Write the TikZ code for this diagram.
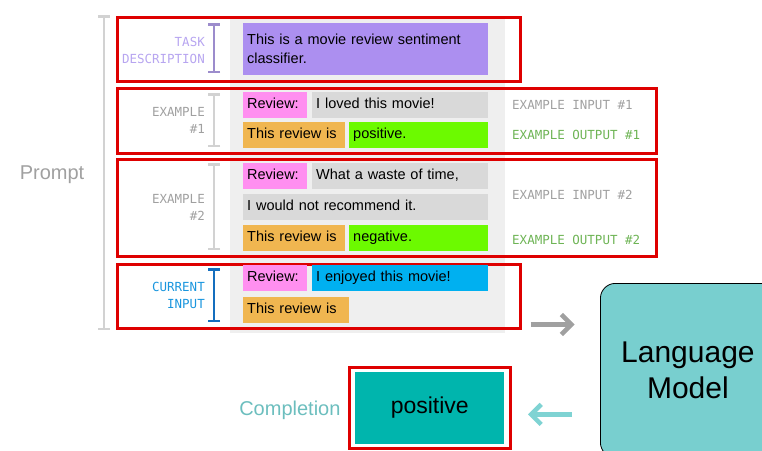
\documentclass[tikz,border=0pt]{standalone}
\usepackage{fontspec}
\setmainfont{Liberation Sans}
\newfontfamily\tagfont{DejaVu Sans Mono}
\usetikzlibrary{arrows.meta}
\definecolor{redline}{RGB}{222,0,0}
\definecolor{panelgray}{RGB}{239,239,239}
\definecolor{segpurple}{RGB}{172,143,240}
\definecolor{tagpurple}{RGB}{183,165,240}
\definecolor{segpink}{RGB}{255,143,240}
\definecolor{seggray}{RGB}{217,217,217}
\definecolor{segorange}{RGB}{240,182,80}
\definecolor{seggreen}{RGB}{108,250,0}
\definecolor{segblue}{RGB}{0,176,240}
\definecolor{tagblue}{RGB}{26,150,222}
\definecolor{beamblue}{RGB}{20,110,190}
\definecolor{taggray}{RGB}{160,160,160}
\definecolor{beamgray}{RGB}{210,210,210}
\definecolor{taggreen}{RGB}{110,180,85}
\definecolor{lmteal}{RGB}{120,207,207}
\definecolor{compteal}{RGB}{0,181,173}
\definecolor{complabel}{RGB}{108,190,190}
\definecolor{arrowteal}{RGB}{127,211,211}
\begin{document}
\begin{tikzpicture}[x=1pt, y=-1pt,
        frame/.style = {draw=redline, line width=2.5pt, anchor=north west, inner sep=0pt},
        seg/.style = {anchor=north west, text width=#1, minimum height=26pt, inner xsep=4pt, inner ysep=0pt,
            align=left, font=\fontsize{14.5}{17}\selectfont, text height=10pt, text depth=3pt},
        tag/.style = {anchor=east, align=right, inner sep=0pt, font=\tagfont\fontsize{12.5}{17}\selectfont},
        side/.style = {anchor=west, inner sep=0pt, font=\tagfont\fontsize{12.5}{14}\selectfont},
        ibeam/.style = {{Bar[width=12pt]}-{Bar[width=12pt]}, line width=2.5pt},
        bigarrow/.style = {-{Straight Barb[length=10pt,width=20pt]}, line width=4.5pt}
    ]
        \useasboundingbox (0,0) rectangle (762,450);
        \clip (0,0) rectangle (762,450);
        \fill[panelgray] (230,16) rectangle (505,333);
        \draw[ibeam, beamgray] (104,15) -- (104,330);
        \node[text=taggray, font=\fontsize{20}{24}\selectfont] (prompt) at (52,175) {Prompt};

        \node[frame, minimum width=403pt, minimum height=64pt] (taskframe) at (116,16) {};
        \node[frame, minimum width=539pt, minimum height=65pt] (exaframe) at (116,87) {};
        \node[frame, minimum width=539pt, minimum height=97pt] (exbframe) at (116,158) {};
        \node[frame, minimum width=403pt, minimum height=64pt] (curframe) at (116,263) {};

        \draw[ibeam, tagpurple!85!black] (214,23) -- (214,73);
        \draw[ibeam, beamgray] (214,93) -- (214,147);
        \draw[ibeam, beamgray] (214,163) -- (214,250);
        \draw[ibeam, beamblue] (214,268) -- (214,322);
        \node[tag, text=tagpurple] (tasktag) at (205,50) {TASK\\DESCRIPTION};
        \node[tag, text=taggray] (exatag) at (205,120) {EXAMPLE\\\#1};
        \node[tag, text=taggray] (exbtag) at (205,207) {EXAMPLE\\\#2};
        \node[tag, text=tagblue] (curtag) at (205,295) {CURRENT\\INPUT};

        \node[seg=237pt, fill=segpurple, minimum height=52pt, font=\fontsize{14.5}{19}\selectfont,
            text height=, text depth=] (task) at (243,23) {This is a movie review sentiment\\classifier.};

        \node[seg=56pt, fill=segpink] (exarev) at (243,92) {Review:};
        \node[seg=168pt, fill=seggray] (exain) at (312,92) {I loved this movie!};
        \node[seg=94pt, fill=segorange] (exalead) at (243,122) {This review is};
        \node[seg=131pt, fill=seggreen] (exaout) at (349,122) {positive.};

        \node[seg=56pt, fill=segpink] (exbrev) at (243,163) {Review:};
        \node[seg=168pt, fill=seggray] (exbin) at (312,163) {What a waste of time,};
        \node[seg=237pt, fill=seggray] (exbmore) at (243,194) {I would not recommend it.};
        \node[seg=94pt, fill=segorange] (exblead) at (243,225) {This review is};
        \node[seg=131pt, fill=seggreen] (exbout) at (349,225) {negative.};

        \node[seg=56pt, fill=segpink] (currev) at (243,265) {Review:};
        \node[seg=168pt, fill=segblue] (curin) at (312,265) {I enjoyed this movie!};
        \node[seg=98pt, fill=segorange] (curlead) at (243,297) {This review is};

        \node[side, text=taggray] (exainlabel) at (512,105) {EXAMPLE INPUT \#1};
        \node[side, text=taggreen] (exaoutlabel) at (512,135) {EXAMPLE OUTPUT \#1};
        \node[side, text=taggray] (exbinlabel) at (512,195) {EXAMPLE INPUT \#2};
        \node[side, text=taggreen] (exboutlabel) at (512,240) {EXAMPLE OUTPUT \#2};

        \node[draw=black, line width=0.8pt, fill=lmteal, rounded corners=15pt, anchor=north west,
            minimum width=175pt, minimum height=174pt, align=center,
            font=\fontsize{30}{36}\selectfont] (lm) at (600,283) {Language\\Model};

        \node[frame, minimum width=161pt, minimum height=81pt] (compframe) at (348,366) {};
        \node[fill=compteal, minimum width=149pt, minimum height=72pt,
            font=\fontsize{23}{26}\selectfont] (comp) at (compframe.center) {positive};
        \node[anchor=east, text=complabel, font=\fontsize{20}{24}\selectfont] (complabel)
            at ([xshift=-4pt,yshift=-3pt]compframe.west) {Completion};

        \draw[bigarrow, taggray] ([xshift=9pt,yshift=5pt]curframe.south east) -- +(44,0);
        \draw[bigarrow, arrowteal] ([xshift=-28pt,yshift=-44pt]lm.west) -- +(-44,0);
    \end{tikzpicture}
\end{document}
